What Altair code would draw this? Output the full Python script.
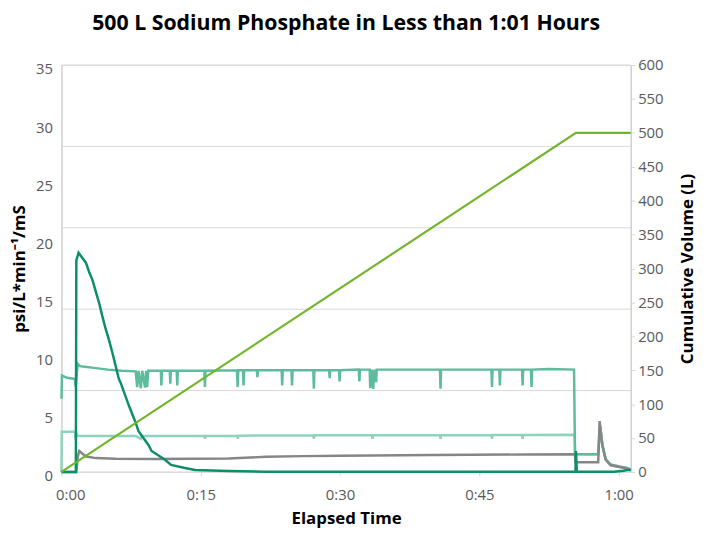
import altair as alt
import pandas as pd

# ---------------- data (minutes elapsed, values) ----------------
# Medium teal series (left axis)
ms_t = [0, 0.05, 0.6, 1.45, 1.52, 1.6, 1.75, 2.0, 2.5, 3.5, 5, 6.5, 8.0,
        8.15, 8.3, 8.55, 8.7, 9.0, 9.12, 9.22, 9.35, 10.7, 10.76, 10.82,
        11.66, 11.72, 11.78, 12.41, 12.47, 12.53, 15.39, 15.45, 15.51,
        18.9, 18.97, 19.04, 19.55, 19.61, 19.67, 21.04, 21.1, 21.16,
        23.71, 23.77, 23.83, 24.77, 24.83, 24.89, 27.12, 27.18, 27.24,
        28.82, 28.88, 28.94, 29.89, 29.95, 30.01, 32.02, 32.08, 32.14,
        33.19, 33.25, 33.4, 33.57, 33.7, 33.89, 33.95, 40.76, 40.82, 40.88,
        46.3, 46.36, 46.42, 47.15, 47.21, 47.27, 49.6, 49.66, 49.72,
        50.56, 50.62, 50.68, 52.5, 55.2, 55.3, 57.8, 58.0, 58.25, 58.6,
        59.1, 60.2, 60.9, 61.3]
ms_v = [6.3, 8.3, 8.1, 8.0, 7.3, 8.0, 9.3, 9.1, 9.05, 8.95, 8.8, 8.7, 8.65,
        7.3, 8.7, 7.2, 8.7, 7.25, 8.7, 7.3, 8.7, 8.7, 7.44, 8.7,
        8.7, 7.58, 8.7, 8.7, 7.44, 8.7, 8.7, 7.3, 8.7,
        8.75, 7.3, 8.75, 8.75, 7.44, 8.75, 8.75, 8.15, 8.75,
        8.75, 7.44, 8.75, 8.75, 7.44, 8.75, 8.75, 7.15, 8.75,
        8.75, 8.06, 8.75, 8.75, 7.78, 8.75, 8.8, 7.78, 8.8,
        8.8, 7.2, 8.8, 7.15, 8.8, 7.72, 8.8, 8.8, 7.15, 8.8,
        8.8, 7.3, 8.8, 8.8, 7.44, 8.8, 8.8, 7.44, 8.8,
        8.8, 7.3, 8.8, 8.85, 8.8, 1.53, 1.53, 4.0, 2.3, 1.1,
        0.65, 0.45, 0.35, 0.2]

# Light teal series (left axis)
lt_t = [0, 0.03, 1.45, 1.52, 1.62, 1.8, 8.0, 8.55, 8.65, 15.4, 15.45, 15.5,
        18.95, 19.0, 19.05, 27.13, 27.18, 27.23, 33.45, 33.5, 33.55,
        40.77, 40.82, 40.87, 46.31, 46.36, 46.41, 49.61, 49.66, 49.71,
        55.25, 55.32, 57.8, 58.0, 58.25, 58.6, 59.1, 60.2, 60.9, 61.3]
lt_v = [0, 3.45, 3.45, 2.8, 3.3, 3.1, 3.1, 2.85, 3.1, 3.1, 2.85, 3.1,
        3.12, 2.85, 3.12, 3.15, 2.85, 3.15, 3.15, 2.85, 3.15,
        3.15, 2.85, 3.15, 3.18, 2.85, 3.18, 3.18, 2.85, 3.18,
        3.2, 1.53, 1.53, 3.9, 2.3, 1.1, 0.65, 0.45, 0.35, 0.2]

# Gray series (left axis)
gr_t = [0, 1.6, 1.75, 1.92, 2.3, 2.7, 3.7, 5.8, 10, 18, 22, 26, 30, 40, 50,
        55.3, 55.35, 57.8, 57.95, 58.25, 58.6, 59.15, 60.2, 60.9, 61.3]
gr_v = [0, 0, 1.3, 1.8, 1.55, 1.33, 1.19, 1.13, 1.12, 1.15, 1.3, 1.36, 1.4,
        1.45, 1.5, 1.53, 0.83, 0.83, 4.37, 2.3, 1.05, 0.57, 0.4, 0.28, 0.1]

# Dark green series (left axis)
dg_t = [0, 1.55, 1.6, 1.84, 2.63, 2.98, 3.34, 4.05, 4.4, 4.76, 5.1, 5.47,
        6.18, 6.36, 7.25, 7.96, 8.3, 9.38, 9.7, 11.15, 11.8, 13.3, 14.4,
        18, 22, 55.35, 55.4, 55.5, 59.5, 60.5, 61.3]
dg_v = [0, 0, 18.2, 18.85, 18.0, 17.2, 16.5, 14.55, 13.4, 12.3, 11.4, 10.3,
        8.0, 7.7, 5.73, 4.3, 3.5, 2.3, 1.8, 1.05, 0.6, 0.34, 0.17,
        0.08, 0.02, 0.02, 1.8, 0.02, 0.02, 0.1, 0.2]

# Cumulative volume (right axis, L)
cv_t = [0, 55.4, 61.3]
cv_v = [0, 500, 500]

grid_vals = [0, 7, 14, 21, 28, 35]
x_ticks = [0, 15, 30, 45, 60]
left_ticks = [0, 5, 10, 15, 20, 25, 30, 35]
right_ticks = [0, 50, 100, 150, 200, 250, 300, 350, 400, 450, 500, 550, 600]

FONT = "Open Sans"
LABEL_COLOR = "#595959"

ms = pd.DataFrame({"t": ms_t, "v": ms_v})
lt = pd.DataFrame({"t": lt_t, "v": lt_v})
gr = pd.DataFrame({"t": gr_t, "v": gr_v})
dg = pd.DataFrame({"t": dg_t, "v": dg_v})
cv = pd.DataFrame({"t": cv_t, "v": cv_v})
gd = pd.DataFrame({"g": grid_vals})

x_axis = alt.Axis(values=x_ticks, grid=False, domain=False, tickSize=4,
                  tickColor="#D9D9D9", labelColor=LABEL_COLOR, labelFontSize=15,
                  labelFont=FONT, labelPadding=12, labelFlush=True,
                  labelFlushOffset=6,
                  labelExpr="floor(datum.value/60) + ':' + (datum.value % 60 < 10 ? '0' : '') + (datum.value % 60)",
                  title="Elapsed Time", titleFont=FONT, titleFontSize=17,
                  titleFontWeight="bold", titleColor="black", titlePadding=8)
x_scale = alt.Scale(domain=[0, 61.3], nice=False, zero=False)

left_axis = alt.Axis(values=left_ticks, grid=False, domain=True,
                     domainColor="#C8C8C8", ticks=False, labelColor=LABEL_COLOR,
                     labelFontSize=15, labelFont=FONT, labelPadding=9,
                     labelOffset=4,
                     title="psi/L*min\u207b\u00b9/mS", titleFont=FONT,
                     titleFontSize=17, titleFontWeight="bold",
                     titleColor="black", titlePadding=7)
left_scale = alt.Scale(domain=[0, 35], nice=False)

right_axis = alt.Axis(values=right_ticks, grid=False, orient="right",
                      domain=True, domainColor="#C8C8C8", tickSize=4,
                      tickColor="#D9D9D9", labelColor=LABEL_COLOR,
                      labelFontSize=15, labelFont=FONT, labelPadding=3,
                      title="Cumulative Volume (L)", titleFont=FONT,
                      titleFontSize=17, titleFontWeight="bold",
                      titleColor="black", titlePadding=17, titleAngle=270,
                      titleBaseline="top")
right_scale = alt.Scale(domain=[0, 600], nice=False)

X = alt.X("t:Q", scale=x_scale, axis=x_axis)


def series(df, color, width=2.5):
    return alt.Chart(df).mark_line(color=color, strokeWidth=width).encode(
        x=X, y=alt.Y("v:Q", scale=left_scale, axis=left_axis))


grid = alt.Chart(gd).mark_rule(color="#D9D9D9", strokeWidth=1).encode(
    y=alt.Y("g:Q", scale=left_scale, axis=left_axis))

left = alt.layer(
    grid,
    series(lt, "#8ED3BD"),
    series(ms, "#5DBB9E"),
    series(gr, "#868686"),
    series(dg, "#0B8F6B"),
)

right = alt.Chart(cv).mark_line(color="#72B52A", strokeWidth=2.2).encode(
    x=X, y=alt.Y("v:Q", scale=right_scale, axis=right_axis))

chart = alt.layer(left, right).resolve_scale(y="independent").properties(
    width=575, height=411,
    autosize=alt.AutoSizeParams(type="none"),
    padding={"left": 54, "top": 55, "right": 71, "bottom": 54},
    title=alt.TitleParams(text="500 L Sodium Phosphate in Less than 1:01 Hours",
                          font=FONT, fontSize=21.5, fontWeight="bold",
                          color="black", anchor="middle", offset=24),
).configure_view(stroke=None).configure(background="white")

chart.save("out.html", embed_options={"renderer": "svg", "actions": False})
